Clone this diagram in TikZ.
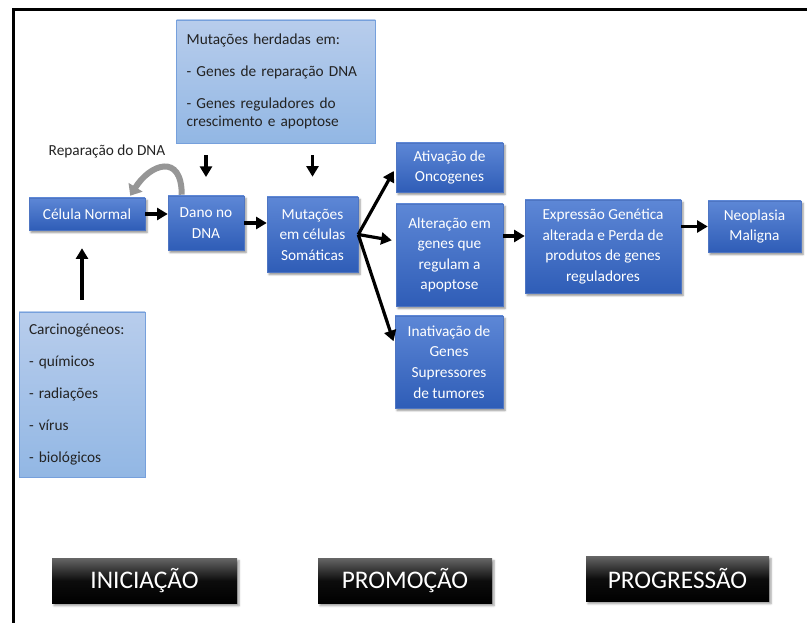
\documentclass[tikz,border=0pt]{standalone}
\usepackage{fontspec}
\setmainfont{Carlito}
\usetikzlibrary{arrows.meta,calc,shadows.blur}
\definecolor{azulTopo}{RGB}{93,135,214}
\definecolor{azulBase}{RGB}{47,93,183}
\definecolor{notaTopo}{RGB}{184,205,236}
\definecolor{notaBase}{RGB}{146,183,228}
\definecolor{notaBorda}{RGB}{118,160,220}
\definecolor{cinzaSeta}{RGB}{150,150,150}
\definecolor{textoEscuro}{RGB}{35,35,35}
\tikzset{
	bloco/.style={
			rectangle, inner sep=0pt, align=center, text=white,
			top color=azulTopo, bottom color=azulBase, draw=azulBase!85!white,
			font=\fontsize{11.5}{15.4}\selectfont,
			blur shadow={shadow xshift=1.5pt, shadow yshift=-1.8pt, shadow blur radius=1.5pt, shadow opacity=45}
		},
	nota/.style={
			rectangle, inner xsep=7.5pt, inner ysep=0pt, align=left, text=textoEscuro,
			top color=notaTopo, bottom color=notaBase, draw=notaBorda,
			font=\fontsize{11.5}{13.5}\selectfont
		},
	fase/.style={
			rectangle, inner sep=0pt, text=white, font=\fontsize{19}{22}\selectfont,
			top color=black!60, bottom color=black, middle color=black!95,
			blur shadow={shadow xshift=1.5pt, shadow yshift=-2pt, shadow blur radius=1.5pt, shadow opacity=40}
		},
	seta/.style={-{Triangle[length=8pt,width=9pt]}, line width=2.4pt}
}
\begin{document}
\begin{tikzpicture}[x=0.75pt, y=-0.75pt]
	\useasboundingbox (0,0) rectangle (807,623);
	% moldura
	\draw[line width=2.25pt] (13,623) -- (13,10) -- (807,10);
	% notas
	\node[nota, text width=134pt, minimum height=92.25pt] (notaMut) at (276,81.5)
		{Mutações herdadas em:\\[10.5pt]- Genes de reparação DNA\\[10.5pt]- Genes reguladores do\\crescimento e apoptose};
	\node[nota, text width=79.5pt, minimum height=123.75pt] (carcino) at (82,394.5)
		{Carcinogéneos:\\[10.5pt]- químicos\\[10.5pt]- radiações\\[10.5pt]- vírus\\[10.5pt]- biológicos};
	\node[text=textoEscuro, font=\fontsize{11.5}{13.5}\selectfont] (reparo) at (107,151) {Reparação do DNA};
	% etapas
	\node[bloco, minimum width=87pt, minimum height=24pt] (celula) at (87,214) {Célula Normal};
	\node[bloco, minimum width=57pt, minimum height=40.5pt] (dano) at (206,223) {Dano no\\DNA};
	\node[bloco, minimum width=68.25pt, minimum height=56.25pt] (mutacoes) at (312.5,234.5) {Mutações\\em células\\Somáticas};
	\node[bloco, minimum width=80.25pt, minimum height=36.75pt] (ativacao) at (449.5,167.5) {Ativação de\\Oncogenes};
	\node[bloco, minimum width=80.25pt, minimum height=76.5pt] (alteracao) at (449.5,255) {Alteração em\\genes que\\regulam a\\apoptose};
	\node[bloco, minimum width=81pt, minimum height=69pt] (inativacao) at (449,362) {Inativação de\\Genes\\Supressores\\de tumores};
	\node[bloco, minimum width=117pt, minimum height=69.75pt] (expressao) at (603,246.5) {Expressão Genética\\alterada e Perda de\\produtos de genes\\reguladores};
	\node[bloco, minimum width=69.75pt, minimum height=38.25pt] (neoplasia) at (754.5,226.5) {Neoplasia\\Maligna};
	% fases
	\node[fase, minimum width=138.75pt, minimum height=33.75pt] (iniciacao) at (144.5,580.5) {INICIAÇÃO};
	\node[fase, minimum width=130.5pt, minimum height=33.75pt] (promocao) at (405,580.5) {PROMOÇÃO};
	\node[fase, minimum width=137.25pt, minimum height=33.75pt] (progressao) at (677.5,578.5) {PROGRESSÃO};
	% setas
	\draw[cinzaSeta, line width=4.5pt, -{Triangle[length=7.5pt,width=12pt]}]
		($(dano.north west)+(14,-1)$) .. controls +(0,-42) and +(20,-32) .. ($(celula.north east)+(-15,-2)$);
	\draw[seta, shorten <=9pt, shorten >=13.5pt] (carcino.north) -- (celula.south -| carcino.north);
	\draw[seta] (celula.east) -- (dano.west |- celula.east);
	\draw[seta] (dano.east) -- (mutacoes.west |- dano.east);
	\draw[seta, shorten <=9pt, shorten >=14pt] (notaMut.south -| dano.north) -- (dano.north);
	\draw[seta, shorten <=9pt, shorten >=15pt] (notaMut.south -| mutacoes.north) -- (mutacoes.north);
	\draw[seta, shorten >=3pt] (mutacoes.east) -- (ativacao.west);
	\draw[seta, shorten >=3pt] (mutacoes.east) -- ($(alteracao.west)+(0,-14)$);
	\draw[seta, shorten >=3pt] (mutacoes.east) -- ($(inativacao.west)+(0,-17)$);
	\draw[seta] ($(alteracao.east)+(0,-19)$) -- ($(expressao.west)+(0,-10.5)$);
	\draw[seta] (expressao.east |- neoplasia.west) -- (neoplasia.west);
\end{tikzpicture}
\end{document}
